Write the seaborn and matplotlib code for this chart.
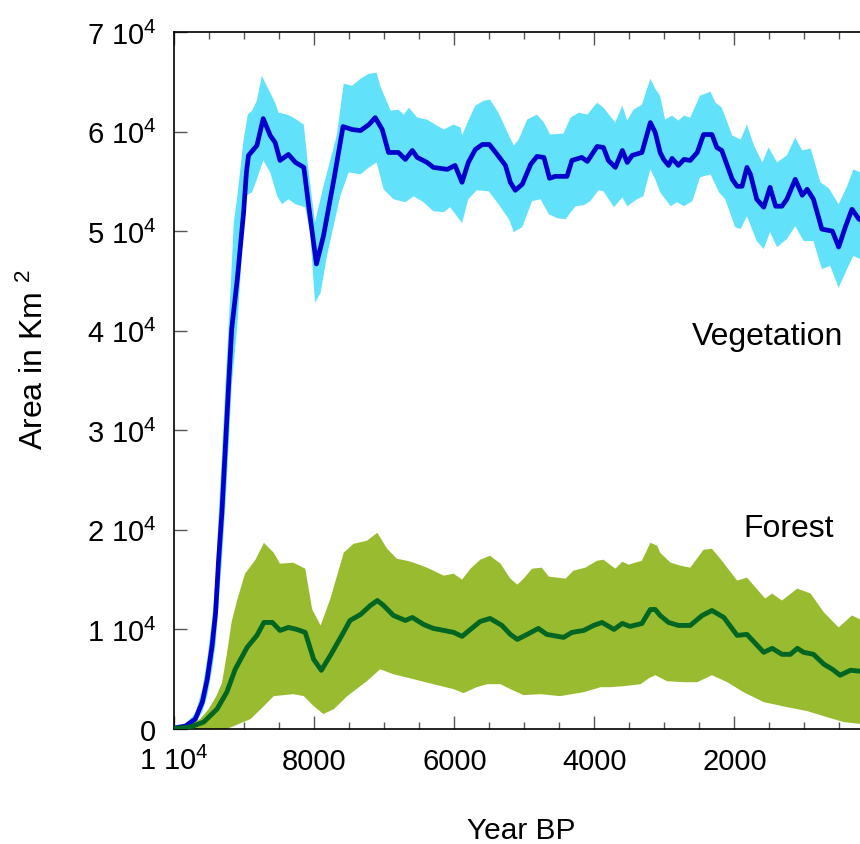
import matplotlib
matplotlib.use("Agg")
import matplotlib.pyplot as plt
import seaborn as sns
from matplotlib.ticker import FixedLocator, MultipleLocator

# ---------------- data (Year BP, area in km^2) ----------------
veg_year = [10000, 9840, 9700, 9600, 9530, 9460, 9410, 9370, 9320, 9270,
            9220, 9180, 9100, 9010, 8970, 8940, 8820, 8730, 8630, 8560,
            8490, 8370, 8270, 8150, 8080, 7970, 7870, 7720, 7590, 7460,
            7340, 7220, 7130, 7030, 6940, 6800, 6700, 6600, 6530, 6390,
            6300, 6100, 5990, 5890, 5800, 5700, 5600, 5500, 5410, 5270,
            5200, 5130, 5030, 4910, 4820, 4720, 4640, 4560, 4390, 4320,
            4180, 4100, 3960, 3870, 3800, 3700, 3600, 3530, 3460, 3320,
            3200, 3130, 3060, 3010, 2940, 2890, 2800, 2720, 2630, 2530,
            2440, 2320, 2250, 2180, 2030, 1960, 1890, 1820, 1770, 1680,
            1580, 1490, 1410, 1320, 1250, 1130, 1030, 960, 870, 750,
            600, 510, 410, 320, 220, 100, 0]
veg_mean = [100, 300, 1000, 2700, 5000, 8400, 11700, 16700, 21800, 28400,
            35100, 40200, 45200, 51900, 55900, 57600, 58600, 61300, 59600, 58900,
            57100, 57700, 56900, 56400, 52500, 46700, 49500, 55200, 60500, 60200,
            60100, 60700, 61400, 60200, 57900, 57900, 57200, 58100, 57400, 56900,
            56400, 56200, 56600, 54900, 56900, 58200, 58700, 58700, 57900, 56600,
            54900, 54100, 54700, 56700, 57500, 57400, 55300, 55500, 55500, 57100,
            57400, 57000, 58500, 58400, 57100, 56400, 58100, 56900, 57600, 57900,
            60900, 59900, 57900, 57200, 56600, 57300, 56600, 57200, 57100, 57900,
            59700, 59700, 58400, 58100, 55200, 54500, 54500, 56400, 55700, 53200,
            52400, 54400, 52500, 52500, 53200, 55200, 53600, 54200, 53200, 50200,
            50000, 48400, 50500, 52200, 51200, 50800, 50500]

veg_up_year = [10000, 9840, 9700, 9600, 9530, 9460, 9410, 9370, 9320, 9270,
               9220, 9180, 9150, 9100, 9010, 8950, 8890, 8820, 8750, 8680,
               8560, 8510, 8390, 8300, 8150, 8080, 7990, 7870, 7680, 7580,
               7460, 7340, 7220, 7110, 7060, 6910, 6800, 6720, 6650, 6530,
               6390, 6250, 6150, 6010, 5910, 5890, 5800, 5700, 5580, 5490,
               5370, 5220, 5150, 5080, 4960, 4820, 4720, 4630, 4440, 4340,
               4220, 4100, 3960, 3870, 3700, 3600, 3530, 3440, 3320, 3200,
               3130, 3060, 2990, 2890, 2800, 2720, 2630, 2490, 2340, 2270,
               2180, 2030, 1910, 1820, 1720, 1600, 1510, 1390, 1250, 1130,
               1030, 910, 770, 650, 510, 390, 300, 200, 100, 0]
veg_up = [150, 450, 1600, 4000, 7000, 11000, 15000, 21000, 27500, 34500,
          41000, 46500, 50900, 53500, 59200, 61700, 62100, 63100, 65600, 64600,
          62900, 61900, 61700, 61400, 60700, 55900, 50900, 54500, 59600, 64800,
          64600, 65300, 65800, 65900, 64600, 62100, 62200, 61700, 62400, 61400,
          61200, 60600, 60200, 60700, 60400, 59600, 61100, 62600, 63100, 63200,
          61900, 59600, 58600, 59200, 61200, 61700, 60900, 59700, 59800, 61400,
          61900, 61700, 62900, 62400, 60900, 62600, 61100, 62200, 62700, 65300,
          64300, 63600, 61200, 61600, 61100, 61600, 61400, 63600, 64000, 62900,
          62400, 59600, 59200, 60700, 58600, 56900, 58400, 56900, 57600, 59400,
          58100, 58300, 54900, 54300, 52700, 54500, 56200, 55900, 55500, 55000]

veg_lo_year = [10000, 9840, 9700, 9600, 9530, 9460, 9410, 9370, 9320, 9270,
               9220, 9180, 9100, 9050, 8990, 8890, 8820, 8730, 8630, 8530,
               8460, 8370, 8270, 8130, 8060, 7990, 7910, 7820, 7630, 7510,
               7340, 7220, 7110, 7010, 6870, 6700, 6580, 6440, 6300, 6150,
               6060, 5910, 5890, 5800, 5680, 5510, 5390, 5220, 5150, 5030,
               4890, 4770, 4650, 4530, 4410, 4270, 4150, 4060, 3940, 3870,
               3720, 3600, 3530, 3390, 3300, 3200, 3130, 3060, 2910, 2820,
               2720, 2600, 2490, 2340, 2220, 2130, 1990, 1910, 1820, 1680,
               1580, 1490, 1390, 1250, 1130, 1010, 870, 750, 630, 510,
               390, 300, 200, 100, 0]
veg_lo = [50, 200, 600, 1700, 3300, 6000, 8500, 12500, 17000, 22500,
          29000, 34500, 40500, 46000, 53500, 53900, 55200, 57100, 55900, 53500,
          52700, 53200, 52700, 52400, 49900, 42800, 43800, 47500, 53500, 55900,
          55700, 56400, 56900, 54200, 53200, 52900, 53500, 52900, 52000, 51900,
          52400, 51000, 50800, 53200, 54100, 54000, 52900, 51200, 49900, 50400,
          53000, 53200, 51700, 51300, 51200, 52500, 52600, 53000, 54100, 54000,
          52400, 53400, 52500, 53200, 53500, 56200, 55200, 53900, 52500, 52900,
          52500, 53000, 55400, 55700, 53900, 53200, 50400, 50200, 51500, 49000,
          48200, 49900, 48400, 49200, 50500, 49000, 49000, 46200, 46500, 44300,
          46200, 47500, 47200, 46800, 46500]

for_year = [10000, 9770, 9580, 9390, 9250, 9130, 8960, 8820, 8720, 8600,
            8490, 8370, 8250, 8130, 8010, 7900, 7770, 7600, 7490, 7340,
            7200, 7100, 7010, 6870, 6700, 6600, 6440, 6300, 6150, 6010,
            5890, 5770, 5630, 5490, 5320, 5200, 5100, 4960, 4800, 4680,
            4440, 4320, 4150, 4010, 3890, 3720, 3600, 3490, 3320, 3200,
            3130, 3060, 2940, 2800, 2630, 2460, 2320, 2150, 1960, 1820,
            1580, 1460, 1320, 1200, 1100, 1010, 870, 720, 600, 490,
            340, 200, 100, 0]
for_mean = [50, 200, 700, 2000, 3700, 6000, 8200, 9400, 10700, 10700,
            9900, 10200, 10000, 9700, 7000, 5900, 7400, 9500, 10900, 11500,
            12400, 12900, 12400, 11400, 10900, 11200, 10500, 10100, 9900, 9700,
            9300, 10000, 10800, 11100, 10400, 9500, 9000, 9500, 10100, 9500,
            9200, 9700, 9900, 10400, 10700, 10000, 10600, 10300, 10600, 12000,
            12000, 11400, 10700, 10400, 10400, 11400, 11900, 11200, 9400, 9500,
            7700, 8100, 7500, 7500, 8100, 7700, 7500, 6500, 6000, 5400,
            5900, 5800, 5700, 5600]

for_up_year = [10000, 9800, 9630, 9510, 9400, 9320, 9250, 9180, 9100, 8990,
               8840, 8720, 8580, 8490, 8300, 8130, 8030, 7910, 7770, 7580,
               7440, 7250, 7100, 6960, 6820, 6680, 6580, 6390, 6150, 6010,
               5890, 5770, 5630, 5490, 5340, 5200, 5100, 5010, 4890, 4750,
               4650, 4410, 4300, 4130, 3960, 3870, 3700, 3600, 3510, 3320,
               3200, 3100, 3060, 2910, 2770, 2630, 2440, 2320, 2200, 1960,
               1820, 1560, 1460, 1320, 1100, 910, 720, 510, 320, 200,
               100, 0]
for_up = [100, 300, 1000, 2000, 3300, 4600, 7500, 10800, 13000, 15600,
          17000, 18700, 17700, 16600, 16700, 16100, 12000, 10400, 13100, 17700,
          18600, 18900, 19700, 18100, 17100, 16900, 16700, 16200, 15400, 15600,
          15000, 16100, 17000, 17400, 16600, 15100, 14500, 15100, 16100, 16200,
          15300, 15100, 15900, 16200, 16900, 17000, 16100, 16800, 16500, 16900,
          18700, 18400, 17700, 16700, 16400, 16200, 18000, 18100, 17100, 14900,
          15200, 13100, 13600, 12900, 14100, 13600, 11700, 10200, 11400, 11000,
          10800, 10500]

for_lo_year = [10000, 9500, 9250, 8910, 8720, 8580, 8300, 8150, 8010, 7870,
               7720, 7530, 7250, 7060, 6870, 6580, 6300, 6010, 5870, 5680,
               5530, 5340, 5200, 5010, 4770, 4490, 4150, 3910, 3770, 3580,
               3340, 3220, 3130, 2960, 2720, 2530, 2320, 2100, 1870, 1580,
               1250, 960, 680, 440, 200, 100, 0]
for_lo = [0, 0, 0, 1000, 2300, 3300, 3500, 3300, 2300, 1500,
          2000, 3300, 4800, 6000, 5500, 5000, 4500, 4000, 3600, 4200,
          4500, 4500, 4000, 3400, 3500, 3300, 3700, 4200, 4200, 4300,
          4500, 5100, 5400, 4800, 4700, 4700, 5400, 4700, 3700, 2700,
          2200, 1800, 1200, 700, 500, 400, 300]

x_ticks = [10000, 8000, 6000, 4000, 2000]
x_labels = ["1 10$^{4}$", "8000", "6000", "4000", "2000"]
y_ticks = [0, 10000, 20000, 30000, 40000, 50000, 60000, 70000]
y_labels = ["0"] + ["%d 10$^{4}$" % k for k in range(1, 8)]

# ---------------- style ----------------
sns.set_theme(style="ticks")
plt.rcParams["font.family"] = ["Liberation Sans", "DejaVu Sans"]
plt.rcParams["mathtext.fontset"] = "custom"
plt.rcParams["mathtext.rm"] = "Liberation Sans"
plt.rcParams["mathtext.it"] = "Liberation Sans:italic"
plt.rcParams["mathtext.bf"] = "Liberation Sans:bold"
plt.rcParams["text.color"] = "black"
plt.rcParams["axes.labelcolor"] = "black"
plt.rcParams["xtick.labelcolor"] = "black"
plt.rcParams["ytick.labelcolor"] = "black"

VEG_BAND = "#62E1FB"
VEG_LINE = "#0000CC"
FOR_BAND = "#99BB30"
FOR_LINE = "#006622"

fig = plt.figure(figsize=(8.6, 8.45), dpi=100)
ax = fig.add_axes([0.2027, 0.1361, 0.814, 0.8249])

# bands (upper edge followed by reversed lower edge)
ax.fill(veg_up_year + veg_lo_year[::-1], veg_up + veg_lo[::-1],
        color=VEG_BAND, lw=0, zorder=1)
ax.fill(for_up_year + for_lo_year[::-1], for_up + for_lo[::-1],
        color=FOR_BAND, lw=0, zorder=2)

sns.lineplot(x=veg_year, y=veg_mean, color=VEG_LINE, linewidth=3.4,
             errorbar=None, ax=ax, zorder=3)
sns.lineplot(x=for_year, y=for_mean, color=FOR_LINE, linewidth=3.5,
             errorbar=None, ax=ax, zorder=4)

ax.set_xlim(10000, 0)
ax.set_ylim(0, 70000)

ax.xaxis.set_major_locator(FixedLocator(x_ticks))
ax.set_xticklabels(x_labels)
ax.xaxis.set_minor_locator(MultipleLocator(500))
ax.yaxis.set_major_locator(FixedLocator(y_ticks))
ax.set_yticklabels(y_labels)

ax.tick_params(axis="both", which="both", direction="in",
               top=True, right=True, color="#555555", width=1.0)
ax.tick_params(axis="both", which="major", length=9.5, labelsize=21,
               labelcolor="black")
ax.tick_params(axis="x", which="major", pad=29)
ax.tick_params(axis="y", which="major", pad=13)
ax.tick_params(axis="both", which="minor", length=4.8)
ax.tick_params(axis="y", which="minor", left=False, right=False)
for lab in ax.get_xticklabels():
    lab.set_verticalalignment("baseline")

for sp in ax.spines.values():
    sp.set_color("black")
    sp.set_linewidth(1.2)

ax.set_xlabel("Year BP", fontsize=21.5, color="black")
ax.xaxis.label.set_verticalalignment("baseline")
ax.xaxis.set_label_coords(0.496, -0.1564)

ax.set_ylabel("Area in Km $^{2}$", fontsize=23, color="black")
ax.yaxis.label.set_rotation_mode("anchor")
ax.yaxis.label.set_verticalalignment("baseline")
ax.yaxis.set_label_coords(-0.1876, 0.532)

ax.text(440, 38650, "Vegetation", fontsize=23, ha="right", va="baseline",
        color="black", zorder=5)
ax.text(581, 19380, "Forest", fontsize=23, ha="right", va="baseline",
        color="black", zorder=5)

fig.savefig("out.png", dpi=100)
